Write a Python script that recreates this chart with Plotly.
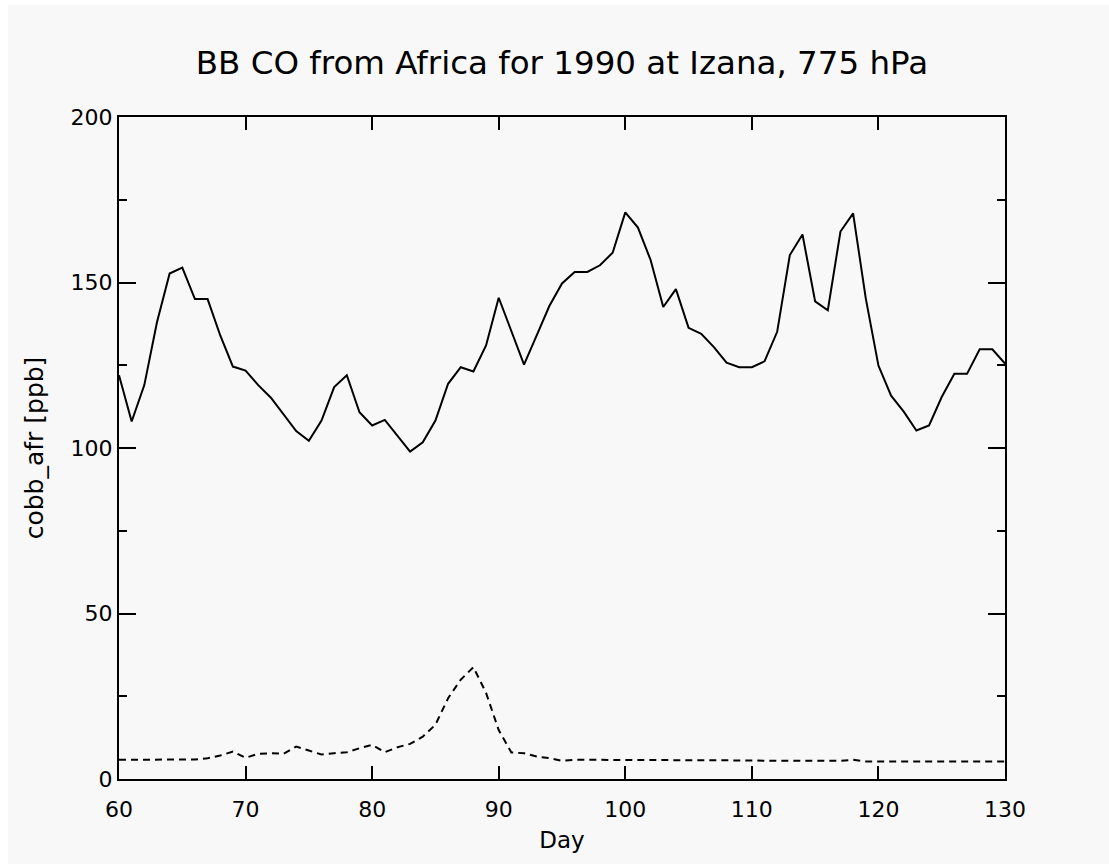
import plotly.graph_objects as go

# Day of year (1990), daily values
days = list(range(60, 131))

# Total biomass-burning CO from Africa [ppb] (solid)
cobb_afr = [
    122, 108, 119, 138, 152.7, 154.5, 145, 145, 134, 124.6,
    123.4, 119, 115.2, 110.3, 105.1, 102.2, 108.3, 118.4, 122, 110.8,
    106.8, 108.5, 103.7, 98.9, 101.7, 108.3, 119.4, 124.4, 123.1, 131,
    145.4, 135.1, 125.2, 134, 142.9, 149.7, 153.2, 153.2, 155.2, 159,
    171.2, 166.6, 156.8, 142.6, 148, 136.3, 134.5, 130.5, 125.8, 124.4,
    124.4, 126.2, 135.1, 158.3, 164.5, 144.3, 141.6, 165.4, 170.9, 145.2,
    124.9, 115.8, 111, 105.3, 106.8, 115.4, 122.4, 122.4, 129.8, 129.8,
    125.5,
]

# Second component [ppb] (dashed)
cobb_afr_2 = [
    5.8, 5.8, 5.8, 5.8, 5.8, 5.8, 5.9, 6.3, 7.1, 8.3,
    6.4, 7.6, 7.8, 7.6, 9.8, 8.6, 7.4, 7.8, 8.1, 9.3,
    10.3, 8.1, 9.6, 10.6, 12.8, 16.4, 24.4, 30, 33.8, 26,
    14.8, 8, 7.8, 6.8, 6.3, 5.5, 5.8, 5.8, 5.8, 5.8,
    5.7, 5.8, 5.8, 5.8, 5.8, 5.8, 5.8, 5.8, 5.8, 5.8,
    5.6, 5.5, 5.5, 5.4, 5.4, 5.4, 5.3, 5.5, 5.8, 5.3,
    5.3, 5.3, 5.3, 5.3, 5.3, 5.3, 5.3, 5.3, 5.3, 5.3,
    5.3,
]

x_ticks = [60, 70, 80, 90, 100, 110, 120, 130]
y_ticks = [0, 50, 100, 150, 200]

FONT = "DejaVu Sans, Liberation Sans, sans-serif"
INK = "#000000"

fig = go.Figure()
fig.add_trace(go.Scatter(
    x=days, y=cobb_afr, mode="lines",
    line=dict(color=INK, width=2), showlegend=False,
))
fig.add_trace(go.Scatter(
    x=days, y=cobb_afr_2, mode="lines",
    line=dict(color=INK, width=2, dash="7px,5px"), showlegend=False,
))

# Light grey page with a thin white strip along the top and left edges
fig.add_shape(
    type="rect", xref="paper", yref="paper",
    x0=-0.1253, x1=1.12, y0=-0.13, y1=1.1692,
    fillcolor="#f8f8f8", line=dict(width=0), layer="below",
)

fig.update_layout(
    width=1109, height=864,
    margin=dict(l=119, r=104, t=117, b=85),
    paper_bgcolor="#ffffff",
    plot_bgcolor="rgba(0,0,0,0)",
    font=dict(family=FONT, color=INK, size=22),
    title=dict(
        text="BB CO from Africa for 1990 at Izana, 775 hPa",
        x=0.5067, xanchor="center", y=0.927, yanchor="middle",
        font=dict(family=FONT, size=32.5, color=INK),
    ),
)

fig.update_xaxes(
    range=[60, 130], tickvals=x_ticks, ticktext=[str(v) for v in x_ticks],
    showgrid=False, zeroline=False,
    showline=True, linecolor=INK, linewidth=2, mirror="ticks",
    ticks="inside", ticklen=13, tickwidth=2, tickcolor=INK,
    ticklabelstandoff=10,
    tickfont=dict(family=FONT, size=22, color=INK),
    title=dict(text="Day", font=dict(family=FONT, size=23, color=INK), standoff=10),
)
fig.update_yaxes(
    range=[0, 200], tickvals=y_ticks, ticktext=[str(v) for v in y_ticks],
    showgrid=False, zeroline=False,
    showline=True, linecolor=INK, linewidth=2, mirror="ticks",
    ticks="inside", ticklen=17, tickwidth=2, tickcolor=INK,
    ticklabelstandoff=0,
    minor=dict(tickvals=[25, 75, 125, 175], ticks="inside", ticklen=8,
               tickwidth=2, tickcolor=INK, showgrid=False),
    tickfont=dict(family=FONT, size=22, color=INK),
    title=dict(text="cobb_afr [ppb]", font=dict(family=FONT, size=25, color=INK), standoff=20),
)

fig.write_html("out.html")
